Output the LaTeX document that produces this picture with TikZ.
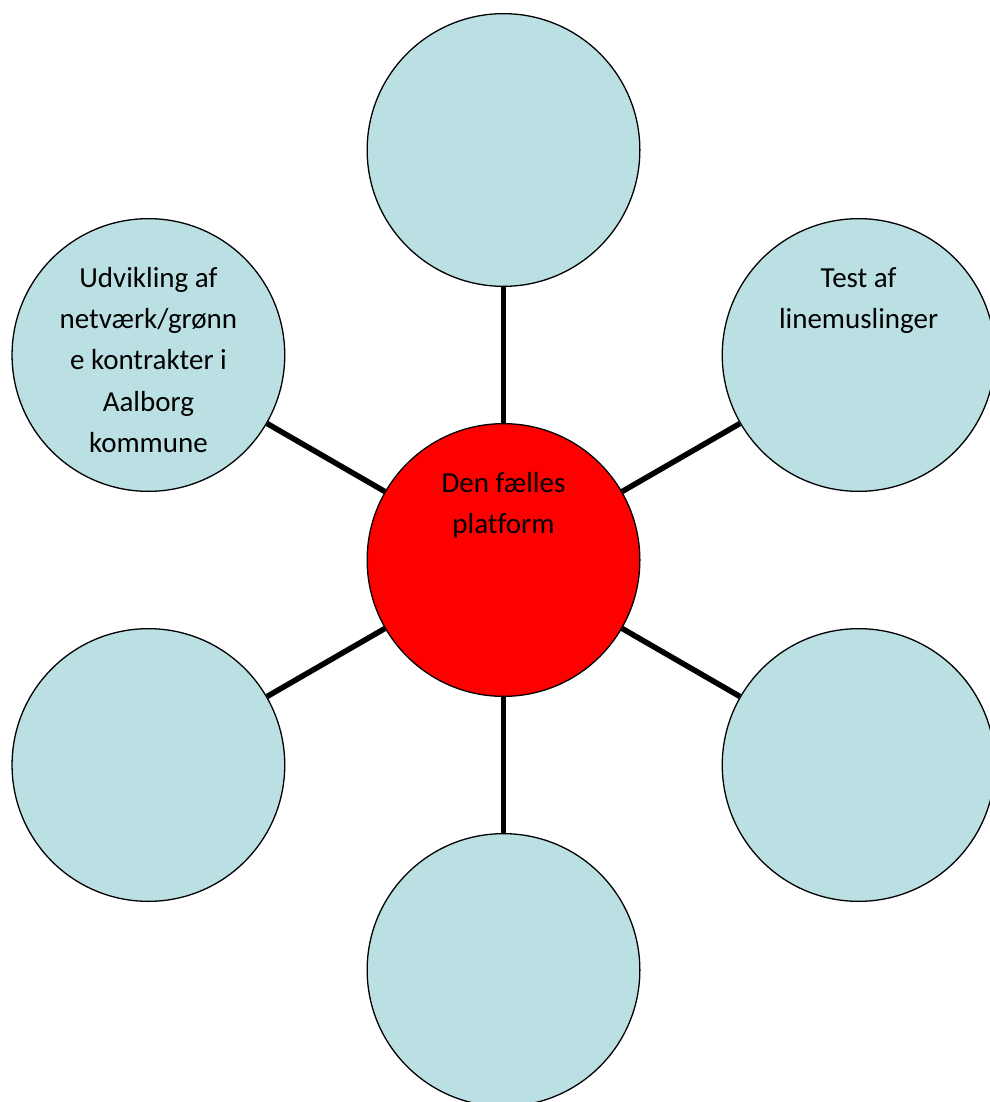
\documentclass[tikz,border=0pt]{standalone}
\usepackage{fontspec}
\setmainfont{Carlito}[Ligatures={NoCommon}]
\definecolor{bubble}{HTML}{BBE0E3}
\definecolor{hub}{HTML}{FF0000}
\tikzset{
  bubble/.style={circle, draw=black, line width=1.3pt, fill=bubble, minimum size=272.7pt, inner sep=0pt},
  hubnode/.style={bubble, fill=hub},
  txt/.style={anchor=north, inner sep=0pt, align=center, yshift=-48pt,
    font=\fontsize{29}{41.3}\selectfont},
  spoke/.style={line width=5.5pt, draw=black}
}
\newcommand{\firststrut}{\rule{0pt}{21pt}}
\begin{document}
\begin{tikzpicture}[x=1pt,y=-1pt]
\useasboundingbox (0,0) rectangle (989,1102);
\node[hubnode] (hub) at (503.5,560) {};
\node[bubble] (top) at (503.5,150) {};
\node[bubble] (bot) at (503.5,970) {};
\node[bubble] (lt) at (148.4,355) {};
\node[bubble] (rt) at (858.6,355) {};
\node[bubble] (lb) at (148.4,765) {};
\node[bubble] (rb) at (858.6,765) {};
\foreach \n in {top,bot,lt,rt,lb,rb} {\draw[spoke] (hub) -- (\n);}
\node[txt] (hubtxt) at (hub.north) {\firststrut Den fælles\\platform};
\node[txt] (lttxt) at (lt.north) {\firststrut Udvikling af\\netværk/grønn\\e kontrakter i\\Aalborg\\kommune};
\node[txt] (rttxt) at (rt.north) {\firststrut Test af\\linemuslinger};
\end{tikzpicture}
\end{document}
